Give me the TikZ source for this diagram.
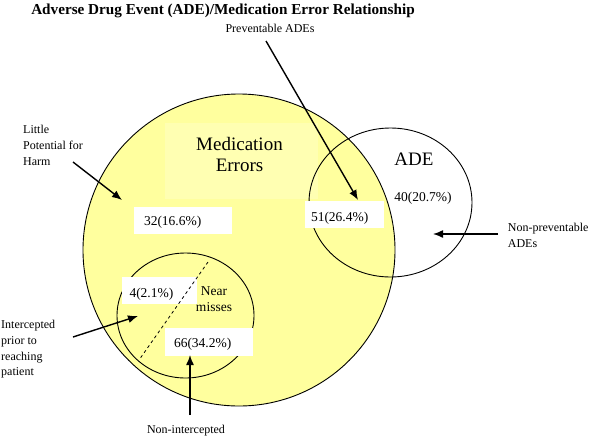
\documentclass[tikz,border=0pt]{standalone}
\usepackage{fontspec}
\setmainfont{Liberation Serif}
\usetikzlibrary{positioning, arrows.meta, shapes.geometric}
\definecolor{errfill}{RGB}{255,255,158}
\definecolor{errlight}{RGB}{255,255,178}

\begin{document}
\begin{tikzpicture}[x=1pt, y=-1pt,
    ring/.style={draw, line width=0.9pt, inner sep=0pt},
    lbl/.style={font=\fontsize{12}{15.8}\selectfont, align=left, inner sep=0pt},
    num/.style={font=\fontsize{13.5}{15.5}\selectfont, align=center, inner sep=0pt},
    big/.style={font=\fontsize{19}{21}\selectfont, align=center, inner sep=0pt},
    numbox/.style={fill=white, inner sep=0pt},
    arrow/.style={-{Latex[length=10pt, width=8pt]}, line width=1.4pt}
]
\useasboundingbox (0,0) rectangle (600,437);

% circles
\node[ring, circle, fill=errfill, minimum size=312pt] (errors) at (239,250) {};
\fill[errlight] (165,123) rectangle (318,199);
\node[ring, ellipse, minimum width=163pt, minimum height=149pt] (ade) at (390.5,202.5) {};
\node[ring, ellipse, minimum width=137pt, minimum height=125pt] (near) at (185.5,315.5) {};

% white boxes with counts
\node[numbox, minimum width=98pt, minimum height=27pt] (box32) at (183,220.5) {};
\node[numbox, minimum width=79pt, minimum height=27pt] (box51) at (344.5,214.5) {};
\node[numbox, minimum width=75pt, minimum height=27pt] (box4) at (159.5,290.5) {};
\node[numbox, minimum width=88pt, minimum height=28pt] (box66) at (209,342) {};
\node[num, right=10pt of box32.west, yshift=-1.4pt] (n32) {32(16.6\%)};
\node[num, right=6pt of box51.west, yshift=-3.4pt] (n51) {51(26.4\%)};
\node[num, right=7.5pt of box4.west, yshift=-3.4pt] (n4) {4(2.1\%)};
\node[num, right=9pt of box66.west, yshift=-2pt] (n66) {66(34.2\%)};

\coordinate (cuttop) at (208,262);
\coordinate (cutbot) at (139,360);
\draw[dashed, line width=0.8pt] (cuttop) -- (cutbot);

% texts
\node[font=\fontsize{15.2}{18}\selectfont\bfseries, inner sep=0pt, anchor=base] (title) at (223,14.5)
  {Adverse Drug Event (ADE)/Medication Error Relationship};
\node[big, anchor=north] (errlbl) at (239.5,137) {Medication\\Errors};
\node[big, anchor=base] (adelbl) at (414,165) {ADE};
\node[num, anchor=base] (n40) at (423,201) {40(20.7\%)};
\node[num, anchor=north] (nearlbl) at (214,286.6) {Near\\misses};

\node[lbl, anchor=base] (prev) at (270,32) {Preventable ADEs};
\node[lbl, anchor=north west] (little) at (23,125) {Little\\Potential for\\Harm};
\node[lbl, anchor=north west] (nonprev) at (507.7,222.8) {Non-preventable\\ADEs};
\node[lbl, anchor=north west] (intercept) at (1,320) {Intercepted\\prior to\\reaching\\patient};
\node[lbl, anchor=base] (nonint) at (186,433) {Non-intercepted};

% arrows
\coordinate (prevtail) at (266,41);
\coordinate (prevtip) at (358,200);
\coordinate (littletail) at (73,162);
\coordinate (littletip) at (122,200);
\coordinate (nonprevtail) at (498,234);
\coordinate (nonprevtip) at (433,234);
\coordinate (inttail) at (73,337);
\coordinate (inttip) at (138,316);
\coordinate (noninttail) at (190,415);
\coordinate (noninttip) at (190,355);

\draw[arrow] (prevtail) -- (prevtip);
\draw[arrow] (littletail) -- (littletip);
\draw[arrow] (nonprevtail) -- (nonprevtip);
\draw[arrow] (inttail) -- (inttip);
\draw[arrow] (noninttail) -- (noninttip);
\end{tikzpicture}
\end{document}
